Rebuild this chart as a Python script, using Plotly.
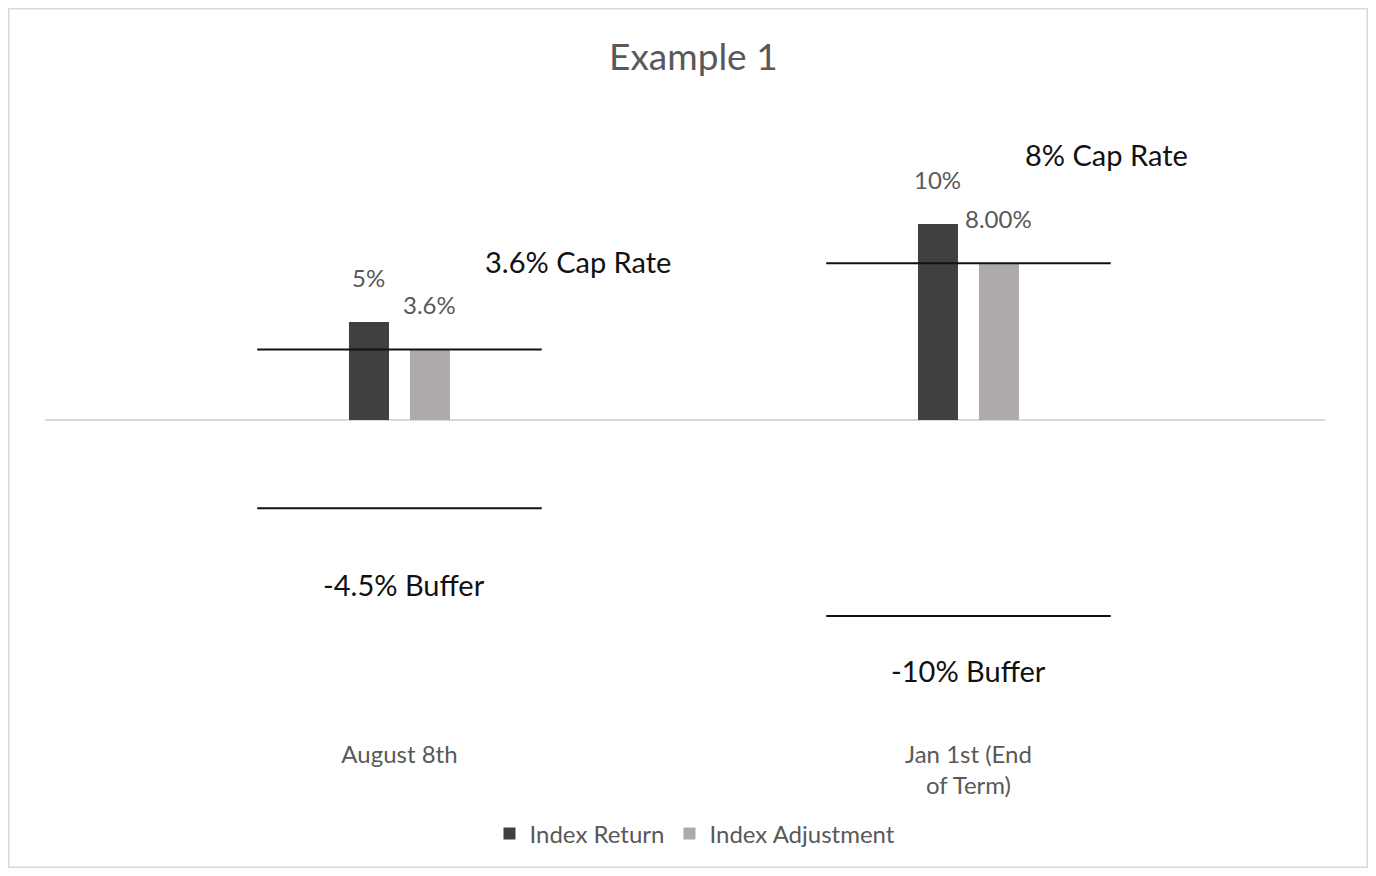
import plotly.graph_objects as go

# ---- data ----
categories = ["August 8th", "Jan 1st (End of Term)"]
tick_labels = ["August 8th", "Jan 1st (End<br>of Term)"]
index_return = [5, 10]
index_adjustment = [3.6, 8]
return_labels = ["5%", "10%"]
adjustment_labels = ["3.6%", "8.00%"]
cap_rate = [3.6, 8]
buffer = [-4.5, -10]
cap_labels = ["3.6% Cap Rate", "8% Cap Rate"]
buffer_labels = ["-4.5% Buffer", "-10% Buffer"]

# ---- layout constants (page body has an 8px margin) ----
OFF = 8
W, H = 1360, 860
L, T = 45 - OFF, 100 - OFF
R = W - (1325 - OFF)
B = H - (738 - OFF)
pw, ph = W - L - R, H - T - B
FONT = "Lato, Open Sans, sans-serif"
GRAY_TXT = "#595959"
x_pos = list(range(len(categories)))

def px_x(px):
    return (px - OFF - L) / pw

def px_y(py):
    return (H - B - (py - OFF)) / ph

fig = go.Figure()
fig.add_trace(go.Bar(x=x_pos, y=index_return, name="Index Return",
                     marker=dict(color="#404040", line=dict(width=0))))
fig.add_trace(go.Bar(x=x_pos, y=index_adjustment, name="Index Adjustment",
                     marker=dict(color="#AEAAAA", line=dict(width=0))))

annotations = []
shapes = []
bar_off = 0.0536
for i in x_pos:
    annotations.append(dict(x=i - bar_off, y=index_return[i], xref="x", yref="y",
                            text=return_labels[i], showarrow=False, yshift=45,
                            font=dict(family=FONT, size=24, color=GRAY_TXT)))
    annotations.append(dict(x=i + bar_off, y=index_adjustment[i], xref="x", yref="y",
                            text=adjustment_labels[i], showarrow=False, yshift=45,
                            font=dict(family=FONT, size=24, color=GRAY_TXT)))
    # cap and buffer lines
    shapes.append(dict(type="line", xref="x", yref="y", x0=i - 0.25, x1=i + 0.25,
                       y0=cap_rate[i], y1=cap_rate[i], line=dict(color="#111111", width=2)))
    shapes.append(dict(type="line", xref="x", yref="y", x0=i - 0.25, x1=i + 0.25,
                       y0=buffer[i], y1=buffer[i], line=dict(color="#111111", width=2)))

cap_dx = [0.314, 0.243]
cap_shift = [88, 109]
buf_dx = [0.008, 0.0]
buf_shift = [-76, -54]
for i in x_pos:
    annotations.append(dict(x=i + cap_dx[i], y=cap_rate[i], xref="x", yref="y",
                            text=cap_labels[i], showarrow=False, yshift=cap_shift[i],
                            font=dict(family=FONT, size=29, color="#111111")))
    annotations.append(dict(x=i + buf_dx[i], y=buffer[i], xref="x", yref="y",
                            text=buffer_labels[i], showarrow=False, yshift=buf_shift[i],
                            font=dict(family=FONT, size=29, color="#111111")))

# outer border
shapes.append(dict(type="rect", xref="paper", yref="paper",
                   x0=px_x(8.75), x1=px_x(1367.25), y0=px_y(867.25), y1=px_y(8.75),
                   line=dict(color="#D9D9D9", width=1.5), layer="below"))

fig.update_layout(
    width=W, height=H,
    margin=dict(l=L, r=R, t=T, b=B, pad=0),
    paper_bgcolor="white", plot_bgcolor="white",
    barmode="group", bargap=0.7856, bargroupgap=0.344,
    title=dict(text="Example 1", x=px_x(690), xanchor="center",
               y=1 - (57 - OFF) / H, yanchor="middle",
               font=dict(family=FONT, size=37, color=GRAY_TXT)),
    xaxis=dict(range=[-0.623, 1.6266], tickvals=x_pos, ticktext=tick_labels,
               showgrid=False, zeroline=False, showline=False, ticks="",
               tickfont=dict(family=FONT, size=24, color=GRAY_TXT)),
    yaxis=dict(range=[-318 / 19.6, 320 / 19.6], showgrid=False, zeroline=True,
               zerolinecolor="#D9D9D9", zerolinewidth=2, showticklabels=False,
               showline=False, ticks=""),
    legend=dict(orientation="h", x=px_x(695), xanchor="center", y=px_y(834),
                yanchor="middle", font=dict(family=FONT, size=24, color=GRAY_TXT),
                itemwidth=30),
    annotations=annotations, shapes=shapes,
)

fig.write_html("out.html")
